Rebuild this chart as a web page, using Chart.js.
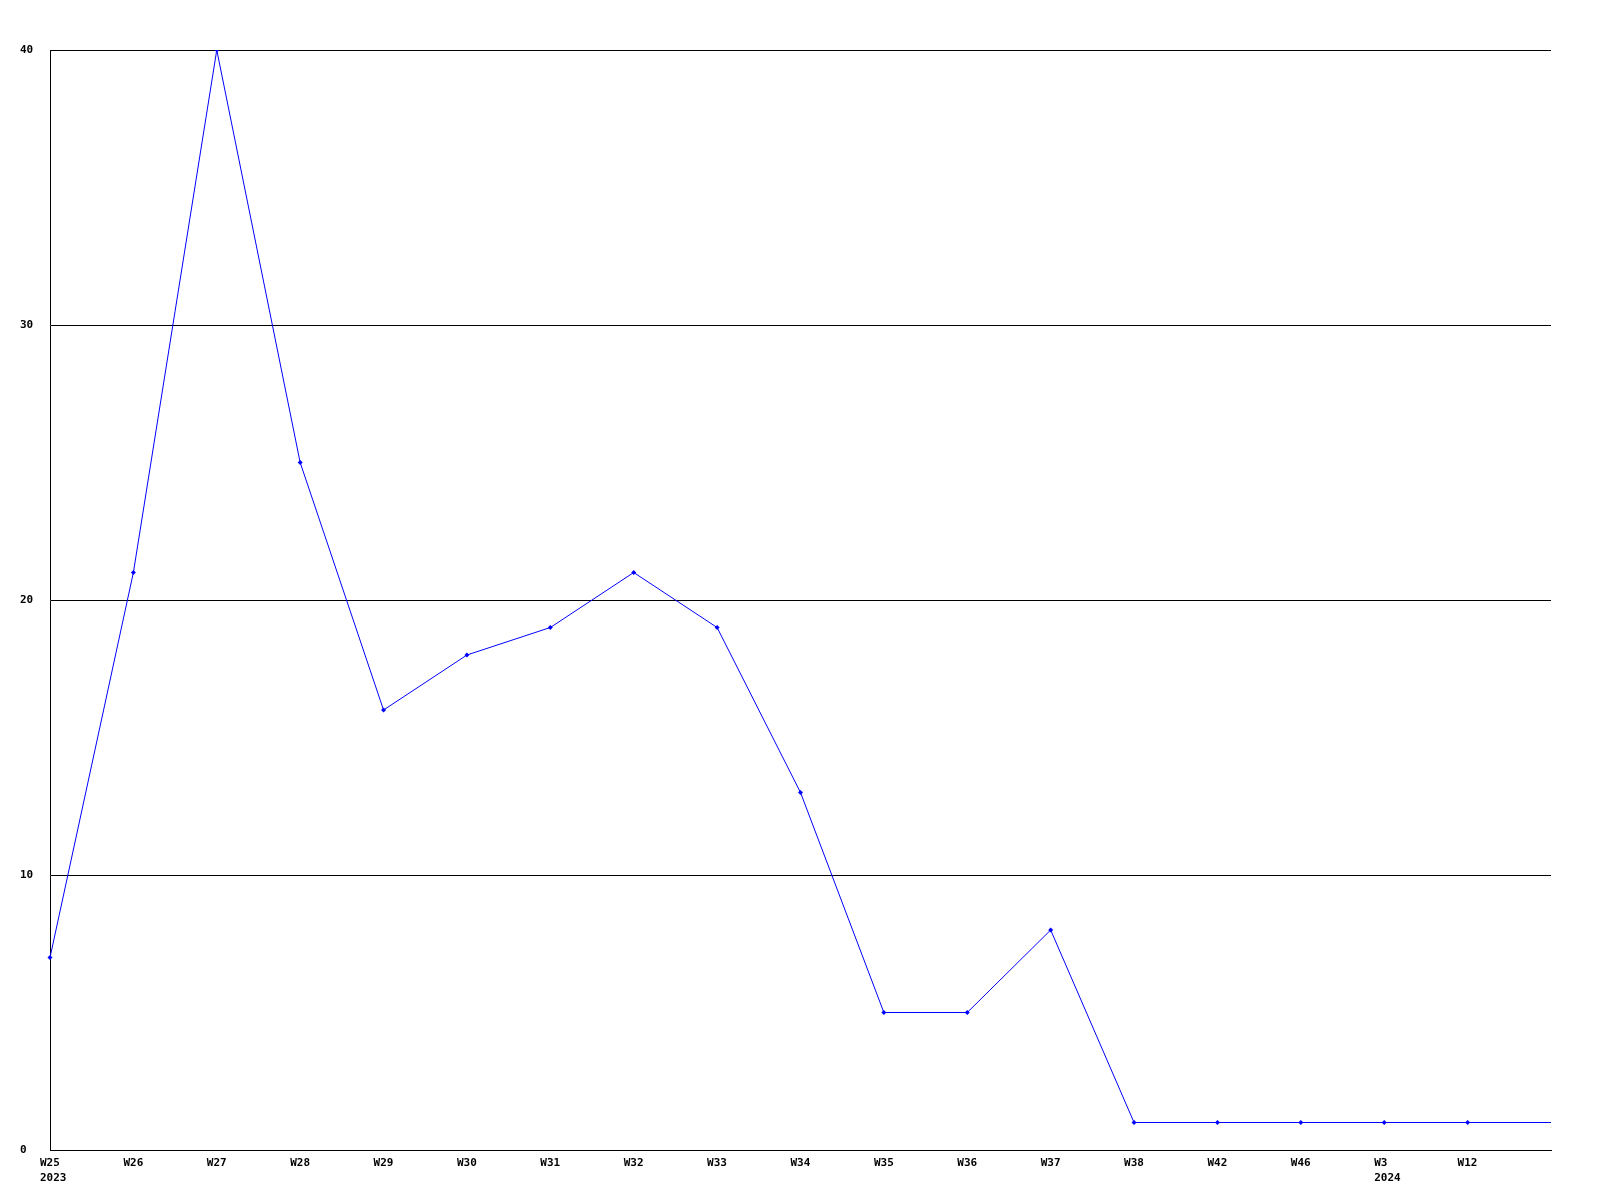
<!DOCTYPE html>
<html>
<head>
<meta charset="utf-8">
<script src="https://cdn.jsdelivr.net/npm/chart.js@4/dist/chart.umd.min.js"></script>
<style>
html,body{margin:0;padding:0;background:#fff;}
#wrap{width:1600px;height:1200px;}
</style>
</head>
<body>
<div id="wrap"><canvas id="c" width="1600" height="1200"></canvas></div>
<script>
const weeks = ['W25','W26','W27','W28','W29','W30','W31','W32','W33','W34','W35','W36','W37','W38','W42','W46','W3','W12',''];
const years = ['2023','','','','','','','','','','','','','','','','2024','',''];
const values = [7,21,40,25,16,18,19,21,19,13,5,5,8,1,1,1,1,1,1];
const yTicks = [0,10,20,30,40];

const labels = weeks.map((w,i)=> years[i] ? [w, years[i]] : [w]);
const radii = values.map((v,i)=> i === values.length-1 ? 0 : 2.5);

new Chart(document.getElementById('c'), {
  type: 'line',
  data: {
    labels: labels,
    datasets: [{
      data: values,
      borderColor: '#0000ff',
      backgroundColor: '#0000ff',
      borderWidth: 1,
      pointStyle: 'rectRot',
      pointRadius: radii,
      pointBorderWidth: 0,
      tension: 0,
      fill: false
    }]
  },
  options: {
    responsive: false,
    animation: false,
    devicePixelRatio: 1,
    layout: { padding: { left: 20, right: 49, top: 50, bottom: 0 } },
    plugins: { legend: { display: false }, tooltip: { enabled: false } },
    scales: {
      x: {
        offset: false,
        grid: { display: false, drawTicks: false },
        border: { display: true, color: '#000', width: 1 },
        ticks: {
          color: '#000',
          font: { family: 'DejaVu Sans Mono', size: 11, weight: 'bold', lineHeight: 1.36 },
          padding: 6,
          align: 'start',
          labelOffset: -10,
          maxRotation: 0,
          minRotation: 0,
          autoSkip: false
        },
        afterFit: s => { s.height = 50; }
      },
      y: {
        min: 0,
        max: 40,
        afterBuildTicks: s => { s.ticks = yTicks.map(v => ({ value: v })); },
        grid: { color: '#000', lineWidth: 1, drawTicks: false },
        border: { display: true, color: '#000', width: 1 },
        ticks: {
          color: '#000',
          font: { family: 'DejaVu Sans Mono', size: 11, weight: 'bold' },
          crossAlign: 'far',
          padding: 0
        },
        afterFit: s => { s.width = 30; }
      }
    }
  }
});
</script>
</body>
</html>
